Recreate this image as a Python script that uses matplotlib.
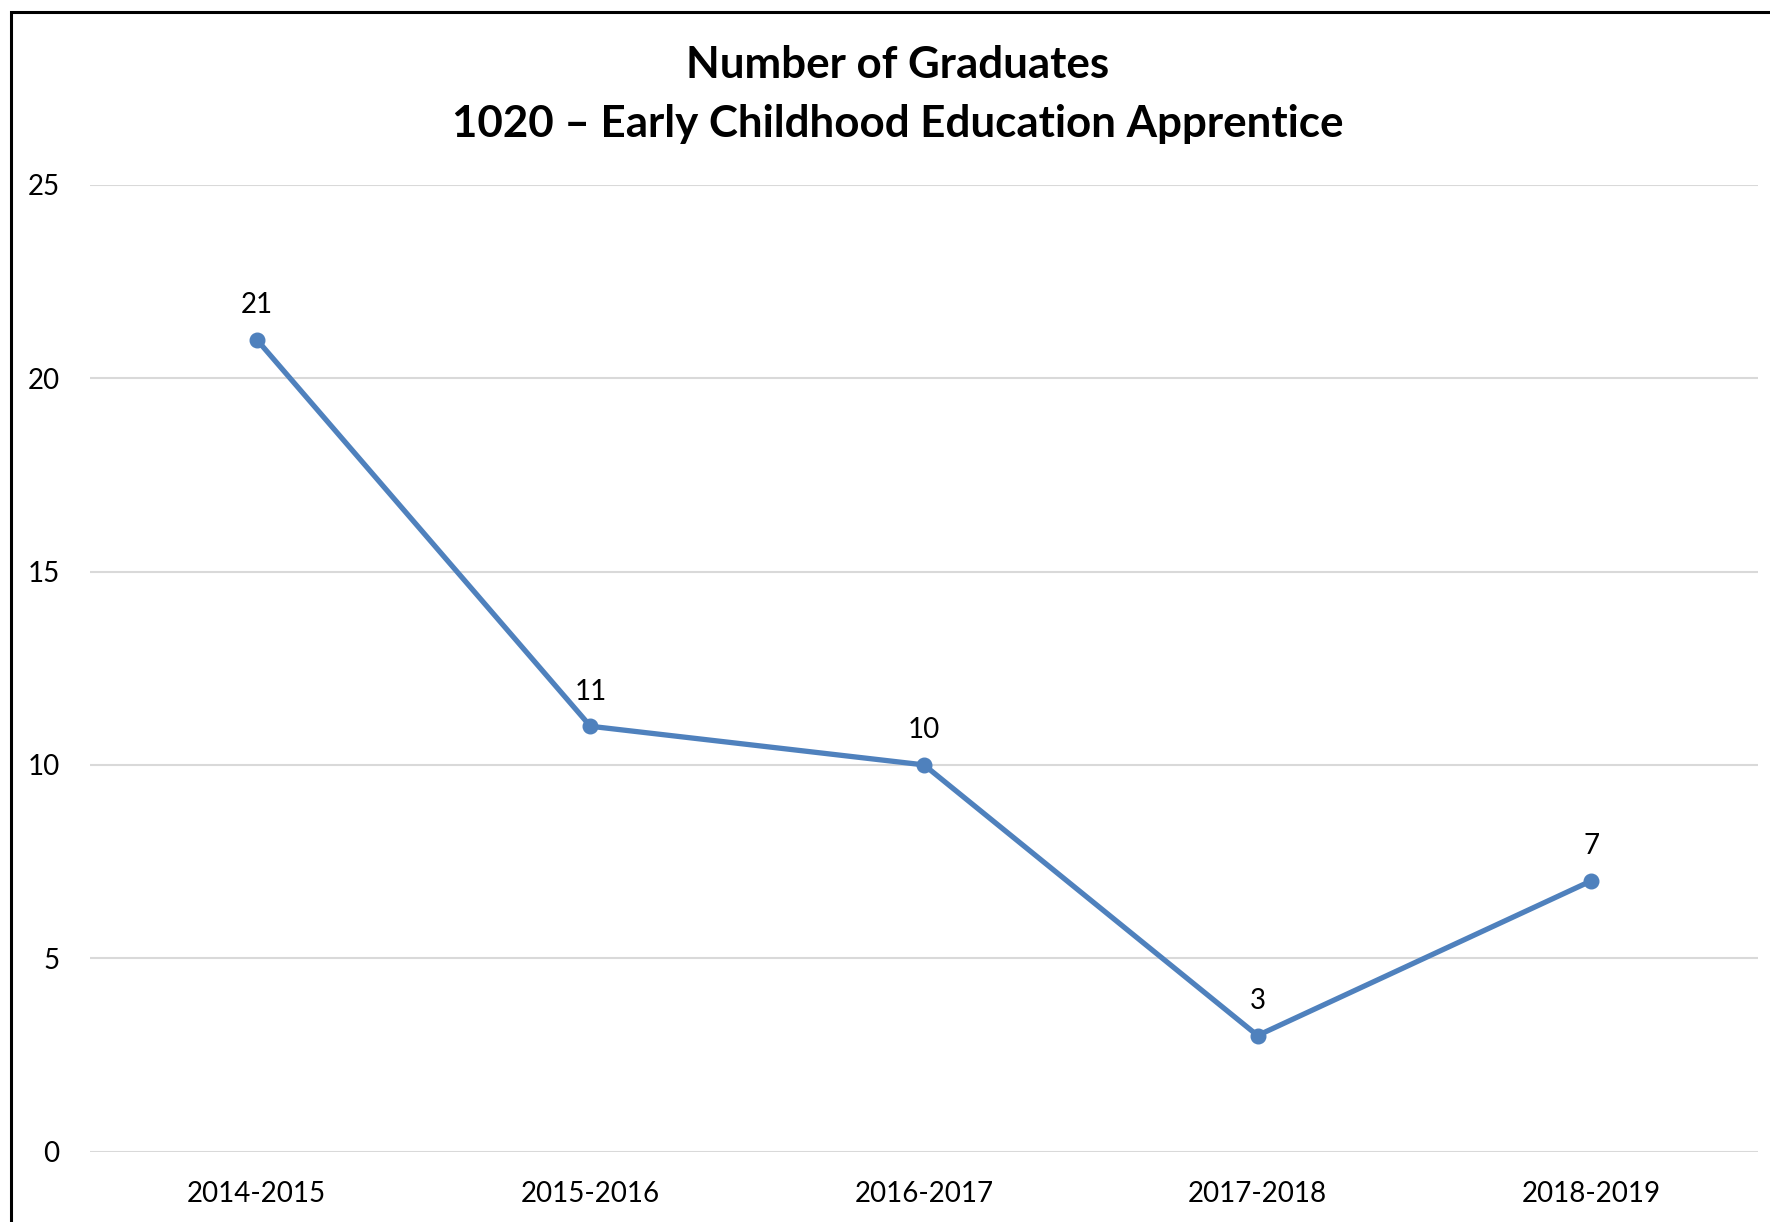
import matplotlib
matplotlib.use("Agg")
import matplotlib.pyplot as plt
from matplotlib.patches import Rectangle

plt.rcParams['font.family'] = ['Lato', 'DejaVu Sans']

# data
years = ['2014-2015', '2015-2016', '2016-2017', '2017-2018', '2018-2019']
graduates = [21, 11, 10, 3, 7]
y_ticks = [0, 5, 10, 15, 20, 25]

W, H = 1770, 1222
fig = plt.figure(figsize=(W / 100, H / 100), dpi=100)

# plot area in pixel terms of the full image
left, right = 90, 1758
top, bottom = 185, 1151.5
ax = fig.add_axes([left / W, 1 - bottom / H, (right - left) / W, (bottom - top) / H])

x = list(range(len(years)))
ax.plot(x, graduates, color='#4F81BD', lw=3.8, marker='o', ms=10.5, zorder=3)

for xi, v in zip(x, graduates):
    ax.annotate(str(v), (xi, v), xytext=(0, 25), textcoords='offset points',
                ha='center', va='center', fontsize=20, color='black')

ax.set_xlim(-0.5, len(years) - 0.5)
ax.set_ylim(0, 25)
ax.set_yticks(y_ticks)
ax.set_xticks(x)
ax.set_xticklabels(years)
ax.tick_params(axis='both', length=0, labelsize=20, colors='black')
ax.tick_params(axis='y', pad=22)
ax.tick_params(axis='x', pad=21)
ax.grid(axis='y', color='#D9D9D9', lw=1.5)
ax.set_axisbelow(True)
for s in ax.spines.values():
    s.set_visible(False)

fig.text(898 / W, 1 - 65 / H, 'Number of Graduates', ha='center', va='center',
         fontsize=31.6, fontweight='bold')
fig.text(898 / W, 1 - 124 / H, '1020 \u2013 Early Childhood Education Apprentice',
         ha='center', va='center', fontsize=31.6, fontweight='bold')

# chart border (cropped at right and bottom)
fig.patches.append(Rectangle((11 / W, -0.1), 1.2, 1.1 - 12 / H, transform=fig.transFigure,
                             fill=False, edgecolor='black', lw=2.2))

fig.savefig('out.png', dpi=100)
